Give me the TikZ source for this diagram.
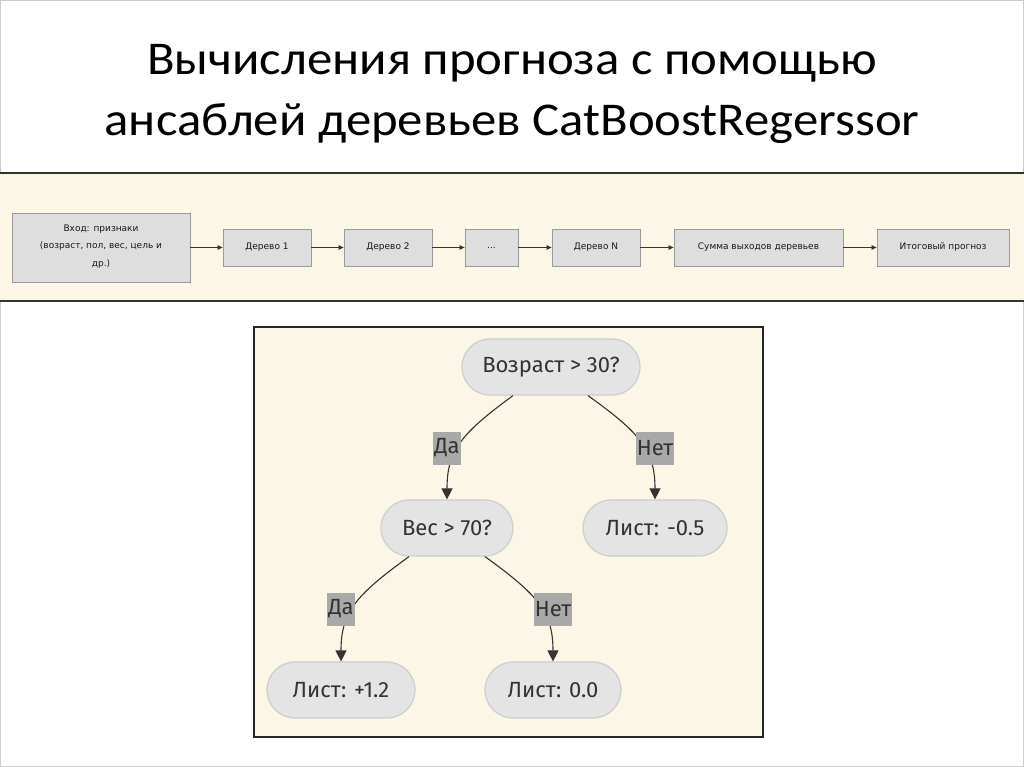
\documentclass[tikz,border=0pt]{standalone}
\usepackage{fontspec}
\setmainfont{Fira Sans}
\newfontfamily\titlefont[FakeStretch=1.08]{Carlito}
\newfontfamily\bandfont{DejaVu Sans}
\usetikzlibrary{arrows.meta}
\definecolor{cream}{HTML}{FCF6E6}
\definecolor{bandbox}{HTML}{DEDEDE}
\definecolor{bandborder}{HTML}{9A9A9A}
\definecolor{treenode}{HTML}{E4E4E4}
\definecolor{treeborder}{HTML}{CDCDCD}
\definecolor{lblfill}{HTML}{A9A9A9}
\definecolor{txt}{HTML}{333333}
\tikzset{
  bandbx/.style={draw=bandborder, line width=0.8pt, fill=bandbox, inner sep=0pt,
    font=\bandfont\fontsize{9}{17.5}\selectfont, text=black!90, align=center},
  bandarrow/.style={draw=txt, line width=0.7pt, -{Triangle[length=5pt,width=4.5pt]}},
  treenodestyle/.style={draw=treeborder, line width=1.2pt, fill=treenode, rounded corners=28pt,
    minimum height=56pt, inner sep=0pt, font=\fontsize{22}{26}\selectfont, text=txt},
  lbl/.style={fill=lblfill, inner sep=0pt, minimum height=33pt, font=\fontsize{22}{26}\selectfont, text=txt},
  treeedge/.style={draw=txt, line width=1.1pt, -{Triangle[length=11pt,width=11pt]}}
}
\begin{document}
\begin{tikzpicture}[x=1pt,y=-1pt]
\useasboundingbox (0,0) rectangle (1024,767);
\fill[white] (0,0) rectangle (1024,767);
\draw[gray!40, line width=1pt] (0.5,0.5) rectangle (1023.5,766.5);
% title
\node[font=\titlefont\fontsize{47}{61}\selectfont, align=center, anchor=base] (title) at (512,136)
  {Вычисления прогноза с помощью\\ансаблей деревьев CatBoostRegerssor};
% band
\fill[cream] (0,173) rectangle (1024,301);
\draw[black!80, line width=1.3pt] (0,173) -- (1024,173);
\draw[black!80, line width=1.3pt] (0,301) -- (1024,301);
\node[bandbx, minimum width=178pt, minimum height=69pt] (in) at (101,247.5)
  {\raisebox{-1pt}[0pt][0pt]{\parbox{170pt}{\centering Вход: признаки\\(возраст, пол, вес, цель и\\др.)}}};
\node[bandbx, minimum width=88pt, minimum height=37pt] (t1) at (267,247.5) {Дерево 1};
\node[bandbx, minimum width=88pt, minimum height=37pt] (t2) at (388,247.5) {Дерево 2};
\node[bandbx, minimum width=53pt, minimum height=37pt] (dots) at (491.5,247.5) {...};
\node[bandbx, minimum width=88pt, minimum height=37pt] (tN) at (596,247.5) {Дерево N};
\node[bandbx, minimum width=169pt, minimum height=37pt] (sum) at (758.5,247.5) {Сумма выходов деревьев};
\node[bandbx, minimum width=132pt, minimum height=37pt] (fin) at (943,247.5) {Итоговый прогноз};
\draw[bandarrow] (in) -- (t1);
\draw[bandarrow] (t1) -- (t2);
\draw[bandarrow] (t2) -- (dots);
\draw[bandarrow] (dots) -- (tN);
\draw[bandarrow] (tN) -- (sum);
\draw[bandarrow] (sum) -- (fin);
% tree panel
\draw[fill=cream, draw=black!85, line width=1.5pt] (254,327) rectangle (763,737);
\node[treenodestyle, minimum width=178pt] (q1) at (551,367) {Возраст > 30?};
\node[treenodestyle, minimum width=132pt] (q2) at (447,528) {Вес > 70?};
\node[treenodestyle, minimum width=144pt] (l1) at (655,528) {Лист: -0.5};
\node[treenodestyle, minimum width=148pt] (l2) at (341,690) {Лист: +1.2};
\node[treenodestyle, minimum width=136pt] (l3) at (553,690) {Лист: 0.0};
\draw[treeedge] ([xshift=-38pt]q1.south) .. controls (462,433) and (447,450) .. (q2.north);
\draw[treeedge] ([xshift=37pt]q1.south) .. controls (640,433) and (655,450) .. (l1.north);
\draw[treeedge] ([xshift=-38pt]q2.south) .. controls (356,595) and (341,612) .. (l2.north);
\draw[treeedge] ([xshift=38pt]q2.south) .. controls (538,595) and (553,612) .. (l3.north);
\node[lbl, minimum width=28pt] (y1) at (447,448) {Да};
\node[lbl, minimum width=38pt] (n1) at (655,448) {Нет};
\node[lbl, minimum width=28pt] (y2) at (341,609) {Да};
\node[lbl, minimum width=38pt] (n2) at (553,609) {Нет};
\end{tikzpicture}
\end{document}
